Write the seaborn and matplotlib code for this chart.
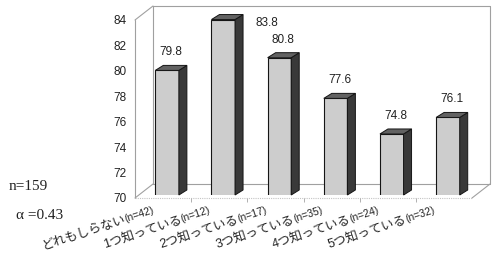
import numpy as np
import pandas as pd
import matplotlib
matplotlib.use('Agg')
import matplotlib.pyplot as plt
import seaborn as sns
from matplotlib.patches import Polygon
from matplotlib.lines import Line2D
from matplotlib.transforms import IdentityTransform, ScaledTranslation, TransformedBbox, Bbox

# ---- data ----
categories = ['どれもしらない', '1つ知っている', '2つ知っている', '3つ知っている', '4つ知っている', '5つ知っている']
counts = [42, 12, 17, 35, 24, 32]
values = [79.8, 83.8, 80.8, 77.6, 74.8, 76.1]
y_ticks = [70, 72, 74, 76, 78, 80, 82, 84]
note_n = 'n=159'
note_alpha = 'α =0.43'

sns.set_theme(style='white')
plt.rcParams['font.family'] = ['Liberation Sans', 'Noto Sans CJK JP', 'DejaVu Sans']

W, H = 500, 268
DPI = 100
fig = plt.figure(figsize=(W / DPI, H / DPI), dpi=DPI)
fig.patch.set_facecolor('white')

L, R, T, B = 135, 472, 20, 198  # front plane in pixels (from top)
ax = fig.add_axes([L / W, (H - B) / H, (R - L) / W, (B - T) / H])

df = pd.DataFrame({'cat': categories, 'value': values})
sns.barplot(data=df, x='cat', y='value', color='#cdcdcd', saturation=1,
            width=0.42, edgecolor='#151515', linewidth=0.8, errorbar=None, ax=ax)
ax.set_ylim(y_ticks[0], y_ticks[-1])
ax.set_xlim(-0.5, len(categories) - 0.5)
ax.set_yticks(y_ticks)
ax.set_xticks([])
ax.set_xticks(np.arange(0.5, len(categories) - 1), minor=True)
ax.set_xlabel('')
ax.set_ylabel('')
for s in ax.spines.values():
    s.set_visible(False)
ax.tick_params(axis='y', length=0, pad=6, labelsize=8.5, labelcolor='#222222')
ax.tick_params(axis='x', which='minor', bottom=True, length=3, width=0.7, color='#b0b0b0')
ax.patch.set_alpha(0)

# ---- pseudo-3D bars ----
SX, SY = 4, 3      # bar placement within depth (px)
BD, BDY = 8, 5     # bar depth (px)
off = ScaledTranslation(SX / DPI, SY / DPI, fig.dpi_scale_trans)
clipbox = TransformedBbox(Bbox.unit(), ax.transAxes + off)
tr = ax.transData + off
ybot = ax.transAxes.transform((0, 0))[1] + SY

for p, v in zip(ax.patches, values):
    p.set_transform(tr)
    p.set_clip_box(clipbox)
    x0 = p.get_x()
    x1 = x0 + p.get_width()
    dx0, dtop = tr.transform((x0, v))
    dx1, _ = tr.transform((x1, v))
    side = Polygon([(dx1, ybot), (dx1 + BD, ybot + BDY), (dx1 + BD, dtop + BDY), (dx1, dtop)],
                   closed=True, transform=IdentityTransform(), fc='#393939', ec='#151515', lw=0.7, zorder=2)
    top = Polygon([(dx0, dtop), (dx0 + BD, dtop + BDY), (dx1 + BD, dtop + BDY), (dx1, dtop)],
                  closed=True, transform=IdentityTransform(), fc='#626262', ec='#151515', lw=0.7, zorder=2)
    fig.add_artist(side)
    fig.add_artist(top)
    # value label
    cx = (dx0 + dx1) / 2 + BD / 2
    if dtop + 12 + 12 > H:
        fig.text((dx1 + BD + 12) / W, (dtop - 3) / H, f'{v:.1f}', ha='left', va='center',
                 fontsize=8.5, color='#222222')
    else:
        fig.text(cx / W, (dtop + 12) / H, f'{v:.1f}', ha='center', va='bottom',
                 fontsize=8.5, color='#222222')

# ---- frame (walls / floor) ----
DX, DY = 18, 14
BACK_R = 490
frame = [
    ((L, T), (L, B)),
    ((L, T), (L + DX, T - DY)),
    ((L, B), (L + DX, B - DY)),
    ((L + DX, T - DY), (L + DX, B - DY)),
    ((L + DX, T - DY), (BACK_R, T - DY)),
    ((BACK_R, T - DY), (BACK_R, B - DY)),
    ((L + DX, B - DY), (BACK_R, B - DY)),
    ((R, B), (BACK_R, B - DY)),
]
for (xa, ya), (xb, yb) in frame:
    fig.add_artist(Line2D([xa, xb], [H - ya, H - yb], transform=IdentityTransform(),
                          color='#a0a0a0', lw=0.8, zorder=-1))
fig.add_artist(Line2D([L, R], [H - B, H - B], transform=IdentityTransform(),
                      color='#c4c4c4', lw=0.8, ls=(0, (1, 1)), zorder=-1))

# ---- category labels (rotated, two sizes) ----
renderer = fig.canvas.get_renderer()
ROT = 18
c, s = np.cos(np.radians(ROT)), np.sin(np.radians(ROT))
for i, (cat, n) in enumerate(zip(categories, counts)):
    npart = f'(n={n})'
    cxp = ax.transData.transform((i, y_ticks[0]))[0]
    axx, axy = cxp - 8, H - 213
    t = fig.text(0, 0, npart, fontsize=7.5)
    w = t.get_window_extent(renderer=renderer).width
    t.remove()
    fig.text(axx / W, axy / H, npart, fontsize=7.5, rotation=ROT, rotation_mode='anchor',
             ha='right', va='baseline', color='#222222')
    mx, my = axx - w * c, axy - w * s
    fig.text(mx / W, my / H, cat, fontsize=9, rotation=ROT, rotation_mode='anchor',
             ha='right', va='baseline', color='#222222')

# ---- notes ----
fig.text(9 / W, (H - 190) / H, note_n, family='Liberation Serif', fontsize=11,
         va='baseline', ha='left', color='#222222')
fig.text(16 / W, (H - 219) / H, note_alpha, family='Liberation Serif', fontsize=11,
         va='baseline', ha='left', color='#222222')

fig.savefig('out.png', dpi=DPI)
